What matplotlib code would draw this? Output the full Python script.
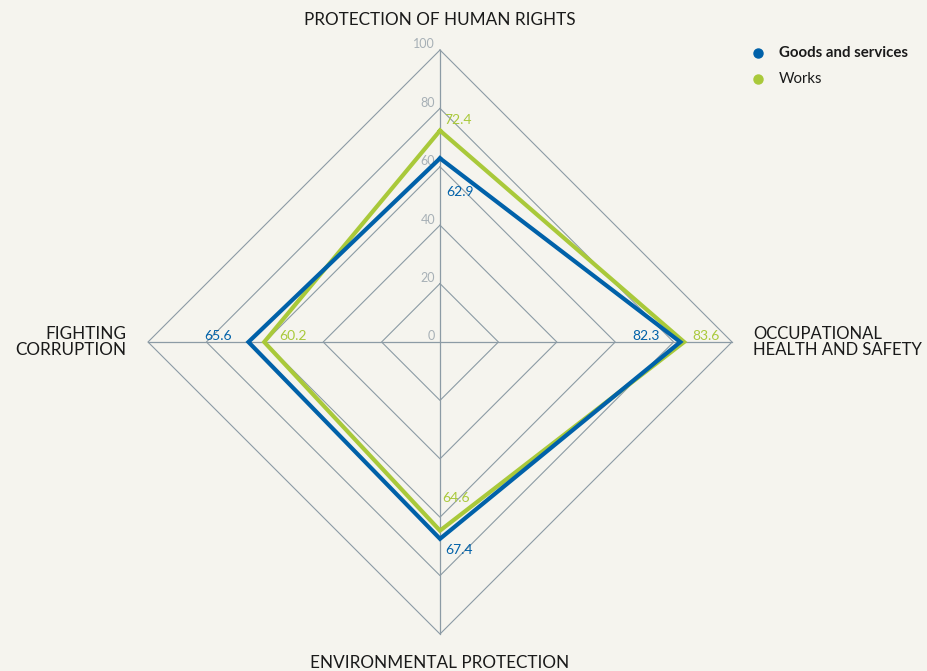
import numpy as np
import matplotlib.pyplot as plt

plt.rcParams['font.family'] = ['Lato', 'DejaVu Sans']

axes_names = ["PROTECTION OF HUMAN RIGHTS", "OCCUPATIONAL\nHEALTH AND SAFETY",
              "ENVIRONMENTAL PROTECTION", "FIGHTING\nCORRUPTION"]
goods = [62.9, 82.3, 67.4, 65.6]
works = [72.4, 83.6, 64.6, 60.2]
ticks = [0, 20, 40, 60, 80, 100]

bg = "#f5f4ee"
grid_c = "#8c9ba5"
blue = "#0061a9"
green = "#a9c93a"

# directions: top, right, bottom, left
dirs = np.array([[0, 1], [1, 0], [0, -1], [-1, 0]], dtype=float)

def pts(vals):
    p = dirs * np.asarray(vals, dtype=float)[:, None]
    return np.vstack([p, p[:1]])

fig = plt.figure(figsize=(9.27, 6.71), dpi=100, facecolor=bg)
ax = fig.add_axes([0, 0, 1, 1])
ax.set_facecolor(bg)
s = 2.92
ax.set_xlim(-440 / s, 487 / s)
ax.set_ylim((342 - 671) / s, 342 / s)
ax.axis('off')

# grid diamonds
for t in ticks[1:]:
    p = pts([t] * 4)
    ax.plot(p[:, 0], p[:, 1], color=grid_c, lw=0.8, zorder=1)
ax.plot([0, 0], [-100, 100], color=grid_c, lw=0.9, zorder=1)
ax.plot([-100, 100], [0, 0], color=grid_c, lw=0.9, zorder=1)

for t in ticks:
    ax.text(-1.7, t + 1.9, str(t), ha='right', va='center', fontsize=9, color="#a7b0b6")

# series
pw = pts(works)
pg = pts(goods)
ax.plot(pw[:, 0], pw[:, 1], color=green, lw=3, solid_joinstyle='miter', zorder=3)
ax.plot(pg[:, 0], pg[:, 1], color=blue, lw=3, solid_joinstyle='miter', zorder=4)

fs = 10
# value labels
ax.text(1.4, works[0] + 3.6, f"{works[0]}", color=green, fontsize=fs, ha='left', va='center')
ax.text(2.0, goods[0] - 11.5, f"{goods[0]}", color=blue, fontsize=fs, ha='left', va='center')
ax.text(goods[1] - 7.0, 2.0, f"{goods[1]}", color=blue, fontsize=fs, ha='right', va='center')
ax.text(works[1] + 3.0, 2.0, f"{works[1]}", color=green, fontsize=fs, ha='left', va='center')
ax.text(-goods[3] - 5.6, 2.0, f"{goods[3]}", color=blue, fontsize=fs, ha='right', va='center')
ax.text(-works[3] + 5.1, 2.0, f"{works[3]}", color=green, fontsize=fs, ha='left', va='center')
ax.text(0.7, -works[2] + 11.2, f"{works[2]}", color=green, fontsize=fs, ha='left', va='center')
ax.text(1.7, -goods[2] - 3.8, f"{goods[2]}", color=blue, fontsize=fs, ha='left', va='center')

# axis labels
lfs = 12.3
tc = "#1a1a1a"
ax.text(0, (342 - 20) / s, axes_names[0], ha='center', va='center', fontsize=lfs, color=tc)
ax.text((753 - 440) / s, 0, axes_names[1], ha='left', va='center', fontsize=12.0,
        color=tc, linespacing=0.97)
ax.text(0, (342 - 663) / s, axes_names[2], ha='center', va='center', fontsize=lfs, color=tc)
ax.text((126 - 440) / s, 0, axes_names[3], ha='right', va='center', fontsize=lfs,
        color=tc, linespacing=0.95, multialignment='right')

# legend
lx = (758 - 440) / s
tx = (779 - 440) / s
for yy, c, lab, w in [((342 - 53) / s, blue, "Goods and services", 'bold'),
                      ((342 - 79) / s, green, "Works", 'normal')]:
    ax.plot([lx], [yy], 'o', color=c, ms=6.5)
    ax.text(tx, yy, lab, ha='left', va='center', fontsize=10.8, color=tc, fontweight=w)

fig.savefig("out.png", dpi=100, facecolor=bg)
